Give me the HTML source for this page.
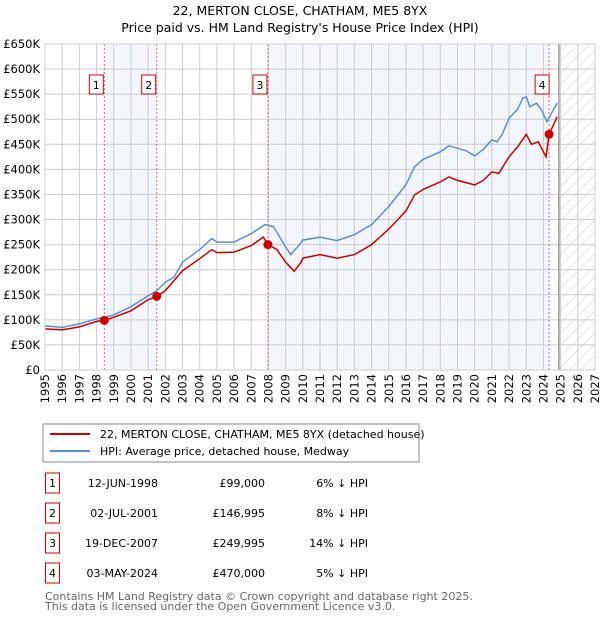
<!DOCTYPE html>
<html><head><meta charset="utf-8"><style>
body{margin:0;background:#fff;width:600px;height:620px;overflow:hidden;font-family:"DejaVu Sans","Liberation Sans",sans-serif}
svg text{font-family:"DejaVu Sans","Liberation Sans",sans-serif}
</style></head><body>
<svg id="c" width="600" height="620">
<defs><pattern id="hatch" width="8" height="8" patternUnits="userSpaceOnUse" patternTransform="rotate(45)"><line x1="0" y1="0" x2="0" y2="8" stroke="#ccc" stroke-width="1"/></pattern></defs>
<text x="300" y="15" text-anchor="middle" font-size="12.5">22, MERTON CLOSE, CHATHAM, ME5 8YX</text>
<text x="300" y="32" text-anchor="middle" font-size="12.5">Price paid vs. HM Land Registry's House Price Index (HPI)</text>
<g id="plot"></g>
<rect x="43" y="424" width="376" height="38" fill="none" stroke="#888"/>
<line x1="50" y1="434" x2="90" y2="434" stroke="#cc0000" stroke-width="2"/>
<text x="100" y="438" font-size="11">22, MERTON CLOSE, CHATHAM, ME5 8YX (detached house)</text>
<line x1="50" y1="451" x2="90" y2="451" stroke="#5b8fd4" stroke-width="2"/>
<text x="100" y="455" font-size="11">HPI: Average price, detached house, Medway</text>
<g id="tbl" font-size="11"></g>
<text x="45" y="600" font-size="11" fill="#666">Contains HM Land Registry data © Crown copyright and database right 2025.</text>
<text x="45" y="610" font-size="11" fill="#666">This data is licensed under the Open Government Licence v3.0.</text>
</svg>
<script>
const hpiYears=[1995,1996,1997,1998,1998.5,1999,2000,2001,2001.5,2002,2002.5,2003,2004,2004.7,2005,2006,2007,2007.8,2008.3,2009,2009.3,2009.8,2010,2011,2012,2013,2014,2015,2016,2016.5,2017,2018,2018.5,2019,2019.5,2020,2020.5,2021,2021.3,2021.6,2022,2022.5,2022.8,2023,2023.2,2023.6,2023.9,2024.2,2024.6,2024.8];
const hpiValues=[88,85,92,102,105,110,126,148,158,175,185,215,240,262,255,255,272,290,286,245,230,250,259,265,258,270,290,326,369,405,420,435,447,442,437,427,440,459,455,470,502,520,542,545,525,532,518,495,520,532];
const ppYears=[1995,1996,1997,1998,1998.45,1999,2000,2001,2001.5,2002,2003,2004,2004.7,2005,2006,2007,2007.7,2007.97,2008.5,2009,2009.5,2009.9,2010,2011,2012,2013,2014,2015,2016,2016.5,2017,2018,2018.5,2019,2020,2020.5,2021,2021.4,2022,2022.5,2023,2023.3,2023.7,2024.1,2024.15,2024.33,2024.8];
const ppValues=[82,80,86,97,99,105,118,140,147,158,198,222,240,234,235,248,265,250,240,215,197,215,223,230,223,230,250,281,317,349,360,375,385,378,369,378,395,392,425,445,470,450,455,428,425,470,505];
const saleYears=[1998.45,2001.5,2007.97,2024.33];
const saleValues=[99,146.995,249.995,470];
const saleLabels=["1","2","3","4"];
const saleDates=["12-JUN-1998","02-JUL-2001","19-DEC-2007","03-MAY-2024"];
const salePrices=["£99,000","£146,995","£249,995","£470,000"];
const saleDiffs=["6% ↓ HPI","8% ↓ HPI","14% ↓ HPI","5% ↓ HPI"];
const yTicks=[0,50,100,150,200,250,300,350,400,450,500,550,600,650];
const yTickLabels=["£0","£50K","£100K","£150K","£200K","£250K","£300K","£350K","£400K","£450K","£500K","£550K","£600K","£650K"];
const xTicks=[1995,1996,1997,1998,1999,2000,2001,2002,2003,2004,2005,2006,2007,2008,2009,2010,2011,2012,2013,2014,2015,2016,2017,2018,2019,2020,2021,2022,2023,2024,2025,2026,2027];
const nowYear=2024.9;
const X0=45,X1=595,Y0=370,Y1=44;
const xs=y=>X0+(y-1995)/(2027-1995)*(X1-X0);
const ys=v=>Y0-v/650*(Y0-Y1);
const NS="http://www.w3.org/2000/svg";
const plot=document.getElementById('plot');
function mk(tag,attrs,parent){const e=document.createElementNS(NS,tag);for(const k in attrs)e.setAttribute(k,attrs[k]);(parent||plot).appendChild(e);return e;}
let e;
e=mk('rect',{x:xs(saleYears[0]),y:Y1,width:xs(saleYears[1])-xs(saleYears[0]),height:Y0-Y1,fill:'#f3f6fd'});


e=mk('rect',{x:xs(saleYears[2]),y:Y1,width:xs(saleYears[3])-xs(saleYears[2]),height:Y0-Y1,fill:'#f3f6fd'});


e=mk('rect',{x:xs(nowYear),y:Y1,width:X1-xs(nowYear),height:Y0-Y1,fill:'url(#hatch)'});


xTicks.forEach(t=>{e=mk('line',{x1:xs(t),x2:xs(t),y1:Y1,y2:Y0,stroke:'#ccc'});


e=mk('text',{x:0,y:0,transform:`translate(${xs(t)+4},374) rotate(-90)`,'text-anchor':'end','font-size':'11.5'});e.textContent=t;

});
yTicks.forEach((t,i)=>{e=mk('line',{x1:X0,x2:X1,y1:ys(t),y2:ys(t),stroke:'#ccc'});


e=mk('text',{x:40,y:ys(t)+4,'text-anchor':'end','font-size':'11.5'});e.textContent=yTickLabels[i];

});
e=mk('line',{x1:xs(nowYear),x2:xs(nowYear),y1:Y1,y2:Y0,stroke:'#999','stroke-width':1.5});


saleYears.forEach(s=>{e=mk('line',{x1:xs(s),x2:xs(s),y1:Y1,y2:Y0,stroke:'#f06060','stroke-dasharray':'2,2'});

});
const path=(a,b)=>a.map((y,i)=>(i?'L':'M')+xs(y).toFixed(1)+','+ys(b[i]).toFixed(1)).join('');
e=mk('path',{d:path(hpiYears,hpiValues),fill:'none',stroke:'#5b8fd4','stroke-width':1.5});


e=mk('path',{d:path(ppYears,ppValues),fill:'none',stroke:'#cc0000','stroke-width':1.5});


saleYears.forEach((s,i)=>{e=mk('circle',{cx:xs(s),cy:ys(saleValues[i]),r:4.5,fill:'#cc0000'});


const bx=xs(s)-(i==3?14:15);
e=mk('rect',{x:bx,y:75,width:14,height:19,fill:'#fff',stroke:'#cc0000'});


e=mk('text',{x:bx+7,y:89,'text-anchor':'middle','font-size':'11'});e.textContent=saleLabels[i];

});
e=mk('rect',{x:X0,y:Y1,width:X1-X0,height:Y0-Y1,fill:'none',stroke:'#ccc'});


const tbl=document.getElementById('tbl');
saleLabels.forEach((l,i)=>{const y=486+i*30;
e=mk('rect',{x:45.5,y:y-13,width:14,height:20,fill:'#fff',stroke:'#cc0000'},tbl);


e=mk('text',{x:52.5,y:y+1,'text-anchor':'middle'},tbl);e.textContent=l;


e=mk('text',{x:158,y:y+1,'text-anchor':'end'},tbl);e.textContent=saleDates[i];


e=mk('text',{x:265,y:y+1,'text-anchor':'end'},tbl);e.textContent=salePrices[i];


e=mk('text',{x:368,y:y+1,'text-anchor':'end'},tbl);e.textContent=saleDiffs[i];

});
</script>
</body></html>
